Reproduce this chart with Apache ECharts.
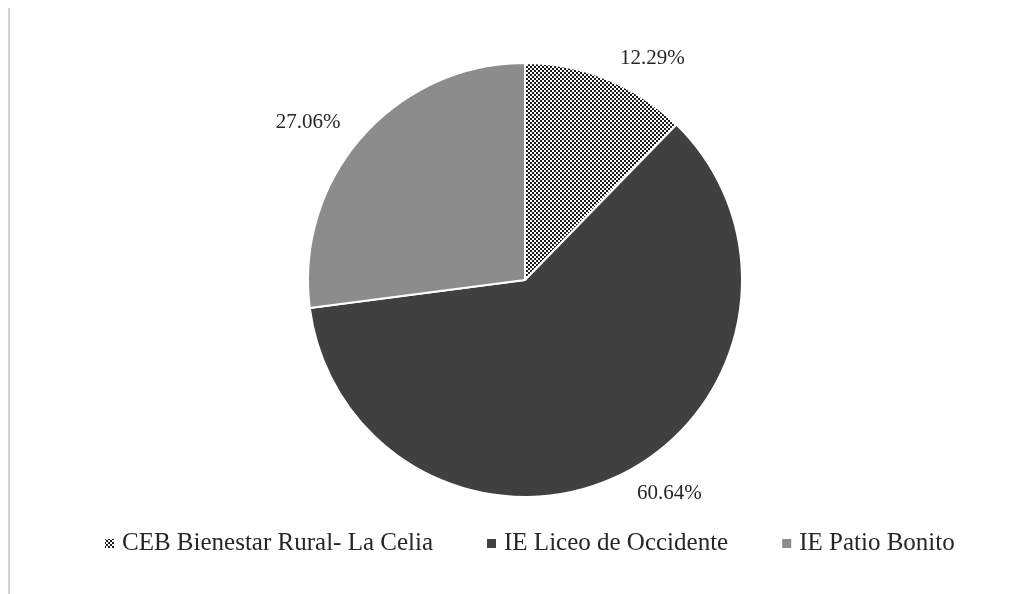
<!DOCTYPE html>
<html>
<head>
    <meta charset="utf-8">
    <title>Pie</title>
    <script src="https://cdn.jsdelivr.net/npm/echarts@6/dist/echarts.min.js"></script>
    <style>
        html, body { margin: 0; padding: 0; background: #fff; }
        #main { width: 1028px; height: 594px; }
    </style>
</head>
<body>
<div id="main"></div>
<script type="text/javascript">
    // data
    var names = ['CEB Bienestar Rural- La Celia', 'IE Liceo de Occidente', 'IE Patio Bonito'];
    var values = [12.29, 60.64, 27.06];
    var colors = ['pattern', '#404040', '#8c8c8c'];

    var serif = '"Liberation Serif", "DejaVu Serif", serif';

    // small checker pattern for the first slice
    var pat = document.createElement('canvas');
    pat.width = 4;
    pat.height = 4;
    var ctx = pat.getContext('2d');
    ctx.fillStyle = '#ffffff';
    ctx.fillRect(0, 0, 4, 4);
    ctx.fillStyle = '#1a1a1a';
    ctx.fillRect(0, 0, 2, 2);
    ctx.fillRect(2, 2, 2, 2);

    var data = [];
    for (var i = 0; i < names.length; i++) {
        var c = colors[i] === 'pattern' ? { image: pat, repeat: 'repeat' } : colors[i];
        data.push({ name: names[i], value: values[i], itemStyle: { color: c } });
    }

    var myChart = echarts.init(document.getElementById('main'), null, { renderer: 'canvas' });
    var option = {
        backgroundColor: '#ffffff',
        animation: false,
        textStyle: { fontFamily: serif },
        graphic: [{
            type: 'line',
            shape: { x1: 9, y1: 8, x2: 9, y2: 594 },
            style: { stroke: '#d4d4d4', lineWidth: 2 }
        }],
        legend: {
            top: 526,
            left: 98,
            padding: 5,
            itemWidth: 11,
            itemHeight: 11,
            itemGap: 52,
            icon: 'rect',
            textStyle: { fontSize: 25, color: '#262626', fontFamily: serif, padding: [0, 0, 0, 2] },
            data: names
        },
        series: [{
            type: 'pie',
            center: [525, 280],
            radius: 217,
            startAngle: 90,
            clockwise: true,
            emphasis: { disabled: true },
            itemStyle: { borderColor: '#ffffff', borderWidth: 2 },
            label: {
                show: true,
                position: 'outside',
                formatter: function (p) { return p.value.toFixed(2) + '%'; },
                fontSize: 21,
                color: '#262626',
                fontFamily: serif
            },
            labelLine: { show: false, length: 22, length2: 0 },
            data: data
        }]
    };
    myChart.setOption(option);
</script>
</body>
</html>
